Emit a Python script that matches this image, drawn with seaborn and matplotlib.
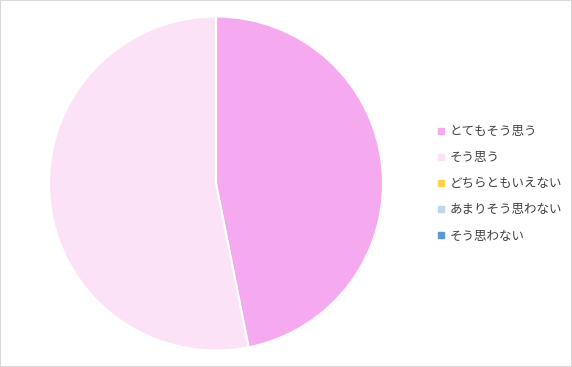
import matplotlib
matplotlib.use("Agg")
import matplotlib.pyplot as plt
from matplotlib.lines import Line2D
from matplotlib.patches import Rectangle
import seaborn as sns

categories = ["とてもそう思う", "そう思う", "どちらともいえない", "あまりそう思わない", "そう思わない"]
values = [15, 17, 0, 0, 0]
colors = ["#F5A9EE", "#FBE2F7", "#FFD24F", "#BDD7EE", "#5B9BD5"]

sns.set_style("white")
plt.rcParams['font.family'] = ['Noto Sans CJK JP', 'DejaVu Sans']

fig = plt.figure(figsize=(5.72, 3.67), dpi=100)
ax = fig.add_axes([49/572, 16.5/367, 334/572, 334/367])
ax.pie(values, colors=colors, startangle=90, counterclock=False,
       wedgeprops=dict(edgecolor="white", linewidth=1.5))
ax.set_xlim(-1, 1)
ax.set_ylim(-1, 1)
ax.set_aspect("equal")

handles = [Line2D([0], [0], marker="s", linestyle="none", markersize=5,
                  markerfacecolor=c, markeredgecolor=c) for c in colors]
fig.legend(handles, categories, loc="upper left", bbox_to_anchor=(431/572, 1 - 120/367),
           frameon=False, fontsize=9.0, labelcolor="#404040", handlelength=0.8,
           handletextpad=0.3, labelspacing=1.05, borderaxespad=0)

fig.patches.append(Rectangle((0, 0), 1, 1, transform=fig.transFigure, fill=False,
                             edgecolor="#D9D9D9", linewidth=1.5))
fig.savefig("out.png", dpi=100)
